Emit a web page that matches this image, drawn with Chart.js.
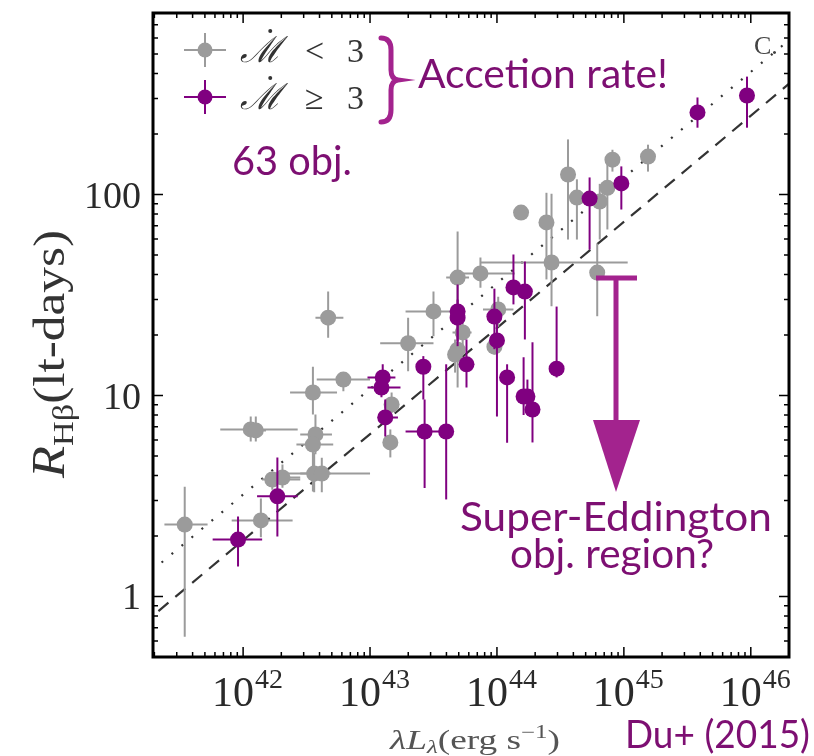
<!DOCTYPE html>
<html>
<head>
<meta charset="utf-8">
<script src="https://cdn.jsdelivr.net/npm/chart.js@4.4.1/dist/chart.umd.min.js"></script>
<style>
  html, body { margin: 0; padding: 0; background: #fff; }
  #wrap { width: 814px; height: 756px; }
</style>
</head>
<body>
<div id="wrap"><canvas id="rlChart" width="814" height="756"></canvas></div>
<script>
// log10 lambda L_lambda, its error bounds (log10), R in lt-days with bounds

// Mdot < 3 (gray)
const lowLogL   = [41.54, 42.14, 42.23, 42.31, 42.56, 42.62, 42.57, 42.55, 42.06, 42.10, 42.55, 42.79, 42.67, 43.50, 43.30, 43.73, 43.69, 43.67, 44.01, 43.98, 43.17, 43.16, 43.69, 43.87, 44.43, 44.79, 44.19, 44.39, 44.56, 44.63, 44.81, 44.87, 44.91, 45.19];
const lowLogLLo = [41.38, 41.91, 42.15, 42.23, 42.45, 42.29, 42.45, 42.42, 41.82, 42.02, 42.37, 42.58, 42.57, 43.28, 43.08, 43.65, 43.69, 43.67, 43.89, 43.98, 43.17, 43.16, 43.60, 43.72, 43.87, 44.79, 44.19, 44.39, 44.56, 44.63, 44.81, 44.87, 44.91, 45.19];
const lowLogLHi = [41.72, 42.39, 42.45, 42.45, 42.69, 43.00, 42.70, 42.71, 42.43, 42.18, 42.74, 43.00, 42.79, 43.73, 43.50, 43.80, 43.69, 43.67, 44.13, 43.98, 43.17, 43.16, 43.78, 44.14, 45.03, 44.79, 44.19, 44.39, 44.56, 44.63, 44.81, 44.87, 44.91, 45.19];
const lowR      = [2.28, 2.39, 3.82, 3.91, 4.09, 4.09, 6.40, 5.70, 6.78, 6.70, 10.35, 12.0, 24.4, 26.2, 18.2, 20.6, 16.9, 16.0, 26.8, 17.5, 9.02, 5.84, 38.6, 40.5, 45.9, 40.9, 81.3, 72.6, 125.8, 96.6, 92.3, 108, 149, 154.5];
const lowRLo    = [0.63, 1.97, 3.40, 3.48, 3.30, 3.30, 5.10, 3.33, 5.90, 5.90, 8.04, 10.5, 19.4, 19.7, 13.2, 17.5, 10.96, 13.0, 22.0, 16.0, 8.2, 4.92, 24.4, 34.4, 27.8, 24.8, 78, 37.8, 59.7, 59.7, 59.7, 67, 130, 130];
const lowRHi    = [3.52, 3.07, 4.19, 4.54, 5.20, 4.90, 8.05, 6.78, 7.86, 7.86, 13.9, 13.0, 32.9, 32.9, 24.4, 24.0, 23.9, 19.0, 31.0, 19.0, 10.35, 6.78, 65.5, 48.6, 101, 57.0, 85, 102, 188, 119, 113, 154, 167, 177];

// Mdot >= 3 (purple)
const highLogL   = [41.96, 42.27, 43.10, 43.09, 43.12, 43.42, 43.43, 43.60, 43.69, 43.69, 43.76, 43.98, 44.00, 44.08, 44.13, 44.22, 44.21, 44.24, 44.28, 44.47, 44.73, 44.98, 45.58, 45.97];
const highLogLLo = [41.76, 42.11, 42.98, 42.98, 43.06, 43.42, 43.28, 43.60, 43.65, 43.69, 43.76, 43.98, 44.00, 44.08, 44.13, 44.22, 44.21, 44.24, 44.28, 44.47, 44.73, 44.98, 45.58, 45.97];
const highLogLHi = [42.15, 42.43, 43.20, 43.24, 43.22, 43.42, 43.59, 43.60, 43.73, 43.69, 43.76, 43.98, 44.00, 44.08, 44.13, 44.22, 44.21, 44.24, 44.28, 44.47, 44.73, 44.98, 45.58, 45.97];
const highR      = [1.92, 3.15, 12.3, 10.96, 7.78, 13.9, 6.62, 6.62, 26.2, 24.4, 14.3, 24.7, 18.8, 12.3, 34.5, 32.9, 9.89, 9.89, 8.52, 13.6, 95.5, 113.5, 256, 311];
const highRLo    = [1.41, 1.99, 10.1, 9.8, 6.25, 9.55, 3.47, 3.04, 18.6, 17.6, 10.96, 17.0, 7.86, 5.82, 28.4, 19.0, 8.0, 8.0, 5.84, 12.3, 53.2, 84.2, 215, 215];
const highRHi    = [2.5, 4.92, 14.3, 12.3, 9.55, 15.7, 9.55, 14.3, 35.7, 30.0, 19.0, 34.0, 23.9, 14.3, 50.3, 46.4, 15.5, 12.0, 18.4, 27.7, 121.6, 138, 304, 386];

// the two R-L relations, endpoints (log10 L, R)
const dottedLogL = [41.2, 46.4];
const dottedR    = [1.22, 661];
const dashedLogL = [41.2, 46.4];
const dashedR    = [0.72, 401];

// axis ranges and tick labels
const xMin = 1.95e41, xMax = 2.0e46;
const yMin = 0.5, yMax = 800;
const xTickExp = [42, 43, 44, 45, 46];
const yTickVals = [1, 10, 100];

const GRAY = '#9b9b9b';
const PURPLE = '#800080';
const NOTE = '#7d0f72';
const ARROW = '#a3238e';
const SERIF = "'Liberation Serif', 'DejaVu Serif', serif";
const ROUND = "Lato, 'Noto Sans', sans-serif";

function buildPoints(logL, r) {
  return logL.map((l, i) => ({ x: Math.pow(10, l), y: r[i] }));
}
function buildErr(lo, hi, rlo, rhi) {
  return lo.map((l, i) => ({
    xlo: Math.pow(10, l), xhi: Math.pow(10, hi[i]), ylo: rlo[i], yhi: rhi[i]
  }));
}

// error bars under each scatter dataset
const errorBarPlugin = {
  id: 'errorBars',
  beforeDatasetDraw(chart, args) {
    const ds = chart.data.datasets[args.index];
    if (!ds.err) return;
    const ctx = chart.ctx, sx = chart.scales.x, sy = chart.scales.y, a = chart.chartArea;
    ctx.save();
    ctx.beginPath();
    ctx.rect(a.left, a.top, a.right - a.left, a.bottom - a.top);
    ctx.clip();
    ctx.strokeStyle = ds.borderColor;
    ctx.lineWidth = 2;
    ds.err.forEach((e, i) => {
      const p = ds.data[i];
      const px = sx.getPixelForValue(p.x), py = sy.getPixelForValue(p.y);
      ctx.beginPath();
      ctx.moveTo(sx.getPixelForValue(e.xlo), py);
      ctx.lineTo(sx.getPixelForValue(e.xhi), py);
      ctx.moveTo(px, sy.getPixelForValue(e.ylo));
      ctx.lineTo(px, sy.getPixelForValue(e.yhi));
      ctx.stroke();
    });
    ctx.restore();
  }
};

// draw text squeezed/stretched to a given width
function fitText(ctx, text, x, y, width) {
  const w = ctx.measureText(text).width;
  ctx.save();
  ctx.translate(x, y);
  ctx.scale(width / w, 1);
  ctx.textAlign = 'left';
  ctx.fillText(text, 0, 0);
  ctx.restore();
}

// pieces = [[text, font, dy]] drawn in a row, scaled to a total width
function drawRow(ctx, pieces, x, y, width) {
  let total = 0;
  pieces.forEach(p => { ctx.font = p[1]; total += ctx.measureText(p[0]).width; });
  ctx.save();
  ctx.translate(x, y);
  ctx.scale(width / total, 1);
  ctx.textAlign = 'left';
  let cx = 0;
  pieces.forEach(p => {
    ctx.font = p[1];
    ctx.fillText(p[0], cx, p[2]);
    cx += ctx.measureText(p[0]).width;
  });
  ctx.restore();
}

function drawSup(ctx, base, sup, x, y, baseSize, supSize) {
  ctx.font = baseSize + 'px ' + SERIF;
  const wb = ctx.measureText(base).width;
  ctx.font = supSize + 'px ' + SERIF;
  const ws = ctx.measureText(sup).width;
  const x0 = x - (wb + ws) / 2;
  ctx.textAlign = 'left';
  ctx.font = baseSize + 'px ' + SERIF;
  ctx.fillText(base, x0, y);
  ctx.font = supSize + 'px ' + SERIF;
  ctx.fillText(sup, x0 + wb + 1, y - baseSize * 0.42);
}

function legendMarker(ctx, x, y, color) {
  ctx.strokeStyle = color;
  ctx.fillStyle = color;
  ctx.lineWidth = 2;
  ctx.beginPath();
  ctx.moveTo(x - 21, y); ctx.lineTo(x + 21, y);
  ctx.moveTo(x, y - 17); ctx.lineTo(x, y + 17);
  ctx.stroke();
  ctx.beginPath();
  ctx.arc(x, y, 7.5, 0, Math.PI * 2);
  ctx.fill();
}

function legendLabel(ctx, x, y, rel) {
  ctx.fillStyle = '#333';
  ctx.textAlign = 'left';
  ctx.font = 'italic 36px ' + SERIF;
  ctx.fillText('\u2133', x, y);
  const w = ctx.measureText('\u2133').width;
  ctx.beginPath();
  ctx.arc(x + w * 0.72, y - 31, 2, 0, Math.PI * 2);
  ctx.fill();
  ctx.font = '34px ' + SERIF;
  ctx.fillText(rel, x + 65, y);
  ctx.fillText('3', x + 107, y);
}

const framePlugin = {
  id: 'frame',
  afterDraw(chart) {
    const ctx = chart.ctx, a = chart.chartArea, sx = chart.scales.x, sy = chart.scales.y;
    ctx.save();
    // ticks on all four sides
    ctx.strokeStyle = '#000';
    ctx.lineWidth = 1.5;
    ctx.beginPath();
    for (let e = 41; e <= 46; e++) {
      for (let m = 1; m <= 9; m++) {
        const v = m * Math.pow(10, e);
        if (v < xMin || v > xMax) continue;
        const px = sx.getPixelForValue(v), len = m === 1 ? 10 : 5;
        ctx.moveTo(px, a.bottom); ctx.lineTo(px, a.bottom - len);
        ctx.moveTo(px, a.top); ctx.lineTo(px, a.top + len);
      }
    }
    for (let e = -1; e <= 2; e++) {
      for (let m = 1; m <= 9; m++) {
        const v = m * Math.pow(10, e);
        if (v < yMin || v > yMax) continue;
        const py = sy.getPixelForValue(v), len = m === 1 ? 10 : 5;
        ctx.moveTo(a.left, py); ctx.lineTo(a.left + len, py);
        ctx.moveTo(a.right, py); ctx.lineTo(a.right - len, py);
      }
    }
    ctx.stroke();
    ctx.lineWidth = 3;
    ctx.strokeRect(a.left, a.top, a.right - a.left, a.bottom - a.top);

    // tick labels
    ctx.fillStyle = '#2a2a2a';
    ctx.textBaseline = 'alphabetic';
    xTickExp.forEach(e => {
      drawSup(ctx, '10', String(e), sx.getPixelForValue(Math.pow(10, e)) + 4, 706, 42, 28);
    });
    ctx.font = '38px ' + SERIF;
    ctx.textAlign = 'right';
    yTickVals.forEach(v => {
      ctx.fillText(String(v), 141, sy.getPixelForValue(v) + 13);
    });

    // y axis title
    ctx.save();
    ctx.translate(64, 478);
    ctx.rotate(-Math.PI / 2);
    ctx.fillStyle = '#333';
    drawRow(ctx, [
      ['R', 'italic 46px ' + SERIF, 0],
      ['H\u03B2', '30px ' + SERIF, 9],
      ['(lt-days)', '45px ' + SERIF, 0]
    ], 0, 0, 248);
    ctx.restore();

    // x axis title
    ctx.fillStyle = '#555';
    drawRow(ctx, [
      ['\u03BBL', 'italic 27px ' + SERIF, 0],
      ['\u03BB', 'italic 18px ' + SERIF, 4],
      ['(erg s', '27px ' + SERIF, 0],
      ['\u22121', '18px ' + SERIF, -11],
      [')', '27px ' + SERIF, 0]
    ], 390, 749, 170);

    // "C." corner mark
    ctx.fillStyle = '#444';
    ctx.font = '26px ' + SERIF;
    ctx.textAlign = 'left';
    ctx.fillText('C.', 754, 54);

    // legend
    legendMarker(ctx, 205, 50, GRAY);
    legendMarker(ctx, 205, 97, PURPLE);
    legendLabel(ctx, 240, 62, '<');
    legendLabel(ctx, 240, 109, '\u2265');

    // brace
    ctx.strokeStyle = ARROW;
    ctx.lineWidth = 5;
    ctx.lineCap = 'round';
    ctx.beginPath();
    ctx.moveTo(381, 38);
    ctx.quadraticCurveTo(391, 38, 391, 50);
    ctx.lineTo(391, 70);
    ctx.quadraticCurveTo(391, 79, 398, 80);
    ctx.quadraticCurveTo(391, 81, 391, 90);
    ctx.lineTo(391, 110);
    ctx.quadraticCurveTo(391, 122, 381, 122);
    ctx.stroke();

    // annotations
    ctx.fillStyle = NOTE;
    ctx.font = '40px ' + ROUND;
    fitText(ctx, 'Accetion rate!', 418, 88, 250);
    fitText(ctx, '63 obj.', 232, 175, 120);
    fitText(ctx, 'Super-Eddington', 460, 531, 312);
    fitText(ctx, 'obj. region?', 510, 568, 204);
    ctx.font = '38px ' + ROUND;
    fitText(ctx, 'Du+ (2015)', 625, 748, 185);

    // arrow
    ctx.strokeStyle = ARROW;
    ctx.fillStyle = ARROW;
    ctx.lineCap = 'butt';
    ctx.lineWidth = 5;
    ctx.beginPath();
    ctx.moveTo(596, 278); ctx.lineTo(637, 278);
    ctx.moveTo(616, 278); ctx.lineTo(616, 422);
    ctx.stroke();
    ctx.beginPath();
    ctx.moveTo(593, 420); ctx.lineTo(640, 420); ctx.lineTo(616, 492);
    ctx.closePath();
    ctx.fill();
    ctx.restore();
  }
};

new Chart(document.getElementById('rlChart'), {
  type: 'scatter',
  data: {
    datasets: [
      {
        label: 'Mdot >= 3',
        data: buildPoints(highLogL, highR),
        err: buildErr(highLogLLo, highLogLHi, highRLo, highRHi),
        backgroundColor: PURPLE,
        borderColor: PURPLE,
        pointRadius: 8,
        pointBorderWidth: 0,
        order: 1
      },
      {
        label: 'Mdot < 3',
        data: buildPoints(lowLogL, lowR),
        err: buildErr(lowLogLLo, lowLogLHi, lowRLo, lowRHi),
        backgroundColor: GRAY,
        borderColor: GRAY,
        pointRadius: 8,
        pointBorderWidth: 0,
        order: 2
      },
      {
        type: 'line',
        label: 'dotted',
        data: buildPoints(dottedLogL, dottedR),
        borderColor: '#333',
        borderWidth: 2.2,
        borderDash: [2, 11],
        pointRadius: 0,
        fill: false,
        order: 3
      },
      {
        type: 'line',
        label: 'dashed',
        data: buildPoints(dashedLogL, dashedR),
        borderColor: '#333',
        borderWidth: 2.2,
        borderDash: [13, 9],
        pointRadius: 0,
        fill: false,
        order: 3
      }
    ]
  },
  options: {
    responsive: false,
    animation: false,
    layout: { padding: { left: 153, top: 13, right: 25, bottom: 99 } },
    scales: {
      x: { type: 'logarithmic', min: xMin, max: xMax, display: false },
      y: { type: 'logarithmic', min: yMin, max: yMax, display: false }
    },
    plugins: {
      legend: { display: false },
      tooltip: { enabled: false }
    }
  },
  plugins: [errorBarPlugin, framePlugin]
});
</script>
</body>
</html>
